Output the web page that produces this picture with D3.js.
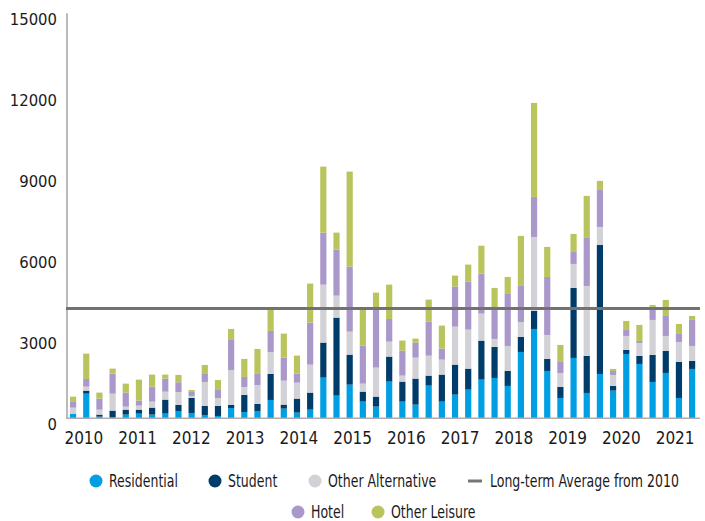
<!DOCTYPE html>
<html>
<head>
<meta charset="utf-8">
<script src="https://cdn.jsdelivr.net/npm/d3@7"></script>
<style>
  html, body { margin: 0; padding: 0; background: #ffffff; }
  svg text { font-family: "DejaVu Sans Condensed", "Liberation Sans", sans-serif; fill: #1a1a1a; }
</style>
</head>
<body>
<svg id="chart" width="705" height="521"></svg>
<script>
// Quarterly investment volumes by sector, 2010 Q1 - 2021 Q4
const years = ["2010", "2011", "2012", "2013", "2014", "2015", "2016", "2017", "2018", "2019", "2020", "2021"];
const quarterNames = ["Q1", "Q2", "Q3", "Q4"];
const quarters = years.flatMap(y => quarterNames.map(q => y + " " + q));

const residential = [
  173, 912, 62, 25, 136, 173, 136, 173,
  271, 197, 123, 86, 382, 234, 271, 678,
  358, 210, 321, 1504, 838, 1245, 617, 432,
  1356, 617, 506, 1208, 617, 875, 1060, 1430,
  1492, 1196, 2454, 3304, 1751, 752, 2232, 937,
  1640, 1023, 2380, 2010, 1344, 1677, 752, 1825
];
const student = [
  0, 111, 74, 259, 185, 148, 259, 518,
  222, 555, 333, 370, 111, 629, 259, 962,
  148, 518, 629, 1295, 2885, 1110, 370, 370,
  925, 740, 962, 370, 999, 1110, 777, 1443,
  1147, 555, 555, 666, 444, 407, 2589, 1369,
  4772, 173, 148, 296, 999, 814, 1332, 296
];
const otherAlternative = [
  222, 148, 185, 629, 111, 148, 222, 296,
  481, 74, 888, 296, 1295, 296, 703, 814,
  888, 592, 1036, 2145, 814, 851, 296, 1073,
  555, 222, 777, 740, 555, 1406, 1443, 999,
  296, 925, 555, 2737, 888, 518, 888, 2589,
  666, 407, 518, 481, 1295, 555, 740, 555
];
const hotel = [
  234, 284, 407, 740, 518, 185, 555, 481,
  358, 148, 296, 296, 1110, 370, 407, 777,
  851, 333, 1554, 1923, 1701, 2404, 1406, 2219,
  838, 925, 555, 1258, 407, 1480, 1776, 1480,
  1110, 1923, 1332, 1480, 2145, 407, 444, 1776,
  1369, 148, 222, 74, 481, 740, 296, 962
];
const otherLeisure = [
  173, 937, 222, 185, 333, 777, 444, 148,
  271, 74, 333, 370, 407, 666, 925, 777,
  888, 666, 1443, 2441, 629, 3514, 1332, 555,
  1270, 370, 148, 814, 851, 407, 629, 1030,
  777, 629, 1850, 3477, 1110, 629, 666, 1554,
  333, 74, 333, 592, 74, 592, 370, 148
];
const longTermAverage = 4060;

const seriesNames = ["Residential", "Student", "Other Alternative", "Hotel", "Other Leisure"];
const seriesColors = ["#009fe3", "#003c69", "#d1d1d6", "#a998c9", "#b9c45d"];
const yTicks = [0, 3000, 6000, 9000, 12000, 15000];

const seriesValues = [residential, student, otherAlternative, hotel, otherLeisure];
const table = quarters.map((q, i) => {
  const row = { quarter: q };
  seriesNames.forEach((name, k) => { row[name] = seriesValues[k][i]; });
  return row;
});

const svg = d3.select("#chart");

const x = d3.scaleBand()
  .domain(quarters)
  .range([66.5, 698.7])
  .paddingInner(0.53)
  .paddingOuter(0.265);

const xYear = d3.scaleBand()
  .domain(years)
  .range([57, 702]);

const y = d3.scaleLinear()
  .domain([0, 15000])
  .range([418.3, 12.7]);

const stacked = d3.stack().keys(seriesNames)(table);

// stacked bars
svg.append("g")
  .selectAll("g")
  .data(stacked)
  .join("g")
  .attr("fill", (d, i) => seriesColors[i])
  .selectAll("rect")
  .data(d => d)
  .join("rect")
  .attr("x", d => x(d.data.quarter))
  .attr("width", x.bandwidth())
  .attr("y", d => y(d[1]))
  .attr("height", d => y(d[0]) - y(d[1]));

// y axis
const yAxis = svg.append("g")
  .attr("transform", "translate(66.5,0)")
  .call(d3.axisLeft(y).tickValues(yTicks).tickSize(0).tickSizeOuter(0).tickPadding(9.5).tickFormat(d3.format("d")));
yAxis.select(".domain").attr("stroke", "#a3a3a3").attr("stroke-width", 1.5);
yAxis.selectAll("text")
  .attr("dy", 0)
  .attr("y", 11.5)
  .style("font-size", "16.5px");

// baseline
svg.append("line")
  .attr("x1", 66).attr("x2", 700)
  .attr("y1", y(0)).attr("y2", y(0))
  .attr("stroke", "#adadad").attr("stroke-width", 1.5);

// long-term average
svg.append("line")
  .attr("x1", 66).attr("x2", 700)
  .attr("y1", y(longTermAverage)).attr("y2", y(longTermAverage))
  .attr("stroke", "#727272").attr("stroke-width", 2.8);

// year labels
svg.append("g")
  .selectAll("text")
  .data(years)
  .join("text")
  .attr("x", d => xYear(d) + xYear.bandwidth() / 2)
  .attr("y", 443.5)
  .attr("text-anchor", "middle")
  .style("font-size", "17px")
  .text(d => d);

// legend
const legendItems = [
  { type: "dot", label: seriesNames[0], color: seriesColors[0], x: 96, y: 481 },
  { type: "dot", label: seriesNames[1], color: seriesColors[1], x: 215, y: 481 },
  { type: "dot", label: seriesNames[2], color: seriesColors[2], x: 315, y: 481 },
  { type: "line", label: "Long-term Average from 2010", color: "#767676", x: 475, y: 481 },
  { type: "dot", label: seriesNames[3], color: seriesColors[3], x: 298, y: 512 },
  { type: "dot", label: seriesNames[4], color: seriesColors[4], x: 378, y: 512 }
];
const legend = svg.append("g")
  .selectAll("g")
  .data(legendItems)
  .join("g")
  .attr("transform", d => `translate(${d.x},${d.y})`);
legend.filter(d => d.type === "dot").append("circle")
  .attr("r", 6.5)
  .attr("fill", d => d.color);
legend.filter(d => d.type === "line").append("line")
  .attr("x1", -7).attr("x2", 7)
  .attr("stroke", d => d.color).attr("stroke-width", 3);
// condensed legend labels
legend.append("text")
  .attr("transform", d => `translate(${d.type === "line" ? 15 : 13},6) scale(0.82,1)`)
  .style("font-size", "17px")
  .text(d => d.label);
</script>
</body>
</html>
